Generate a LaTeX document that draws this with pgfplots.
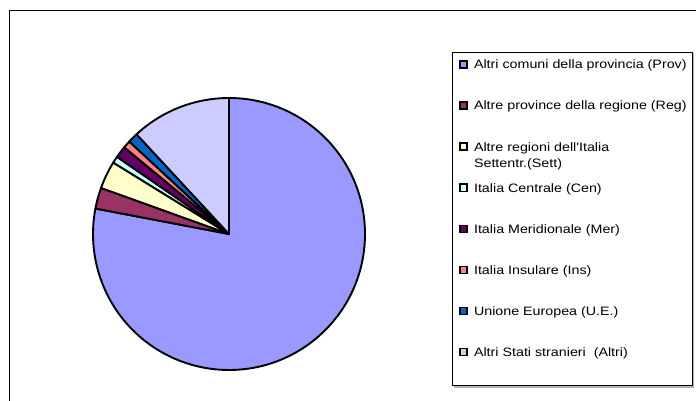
\documentclass[border=0pt]{standalone}
\usepackage{fontspec}
\setmainfont{Liberation Sans}[FakeStretch=1.17, Ligatures=TeXOff]
\usepackage{pgfplots}
\usepackage{pgfplotstable}
\pgfplotsset{compat=1.18}

\definecolor{cProv}{HTML}{9999FF}
\definecolor{cReg}{HTML}{993366}
\definecolor{cSett}{HTML}{FFFFCC}
\definecolor{cCen}{HTML}{CCFFFF}
\definecolor{cMer}{HTML}{660066}
\definecolor{cIns}{HTML}{FF8080}
\definecolor{cUE}{HTML}{0066CC}
\definecolor{cAltri}{HTML}{CCCCFF}

% share of each origin (percent), clockwise from 12 o'clock
\pgfplotstableread{
share colour
78.0 cProv
2.5  cReg
3.3  cSett
0.8  cCen
1.4  cMer
0.9  cIns
1.2  cUE
11.9 cAltri
}\piedata

\begin{document}
\begin{tikzpicture}
\useasboundingbox (0,0) rectangle (696pt,400pt);
\clip (0,0) rectangle (696pt,400pt);
\begin{axis}[
    hide axis, clip=false,
    scale only axis, width=696pt, height=400pt,
    at={(0,0)}, anchor=south west,
    xmin=0, xmax=696, ymin=0, ymax=400,
    legend cell align=left,
    legend image code/.code={
        \draw[#1, line width=1.5pt] (0.75pt,0.8pt) rectangle (7.6pt,7.9pt);
    },
    legend style={
        draw=none, fill=none, inner sep=0pt,
        at={(459/696,340.4/400)}, anchor=north west,
        font=\fontsize{12.2}{16}\selectfont,
        row sep=29.1pt,
        nodes={inner sep=0pt, anchor=base west, text height=9pt, text depth=3pt},
        /tikz/every odd column/.append style={column sep=6.5pt},
    },
]
% frames
\draw[line width=1pt] (axis cs:9,389) rectangle (axis cs:720,-20);
\draw[gray!60, line width=1.5pt] (axis cs:453.5,13.2) -- (axis cs:693.6,13.2) -- (axis cs:693.6,346.5);
\draw[line width=0.9pt] (axis cs:452,348) rectangle (axis cs:692,15);

% pie slices
\pgfplotstablegetrowsof{\piedata}
\pgfmathtruncatemacro\nrows{\pgfplotsretval-1}
\def\startang{90}
\pgfplotsforeachungrouped \i in {0,...,\nrows}{
    \pgfplotstablegetelem{\i}{share}\of\piedata \let\v\pgfplotsretval
    \pgfplotstablegetelem{\i}{colour}\of\piedata \let\c\pgfplotsretval
    \pgfmathsetmacro\endang{\startang-3.6*\v}
    \edef\temp{\noexpand\draw[fill=\c, line width=1.9pt, line join=round]
        (axis cs:229,166) -- ++(\startang:136pt)
        arc[start angle=\startang, end angle=\endang, radius=136pt] -- cycle;}
    \temp
    \let\startang\endang
}

\addlegendimage{fill=cProv, draw=black}
\addlegendentry{Altri comuni della provincia (Prov)}
\addlegendimage{fill=cReg, draw=black}
\addlegendentry{Altre province della regione (Reg)}
\addlegendimage{fill=cSett, draw=black}
\addlegendentry{\raisebox{0pt}[9pt][3pt]{\begin{tabular}[t]{@{}l@{}}Altre regioni dell'Italia\\Settentr.(Sett)\end{tabular}}}
\addlegendimage{fill=cCen, draw=black}
\addlegendentry{Italia Centrale (Cen)}
\addlegendimage{fill=cMer, draw=black}
\addlegendentry{Italia Meridionale (Mer)}
\addlegendimage{fill=cIns, draw=black}
\addlegendentry{Italia Insulare (Ins)}
\addlegendimage{fill=cUE, draw=black}
\addlegendentry{Unione Europea (U.E.)}
\addlegendimage{fill=cAltri, draw=black}
\addlegendentry{Altri Stati stranieri\ \ (Altri)}
\end{axis}
\end{tikzpicture}
\end{document}
